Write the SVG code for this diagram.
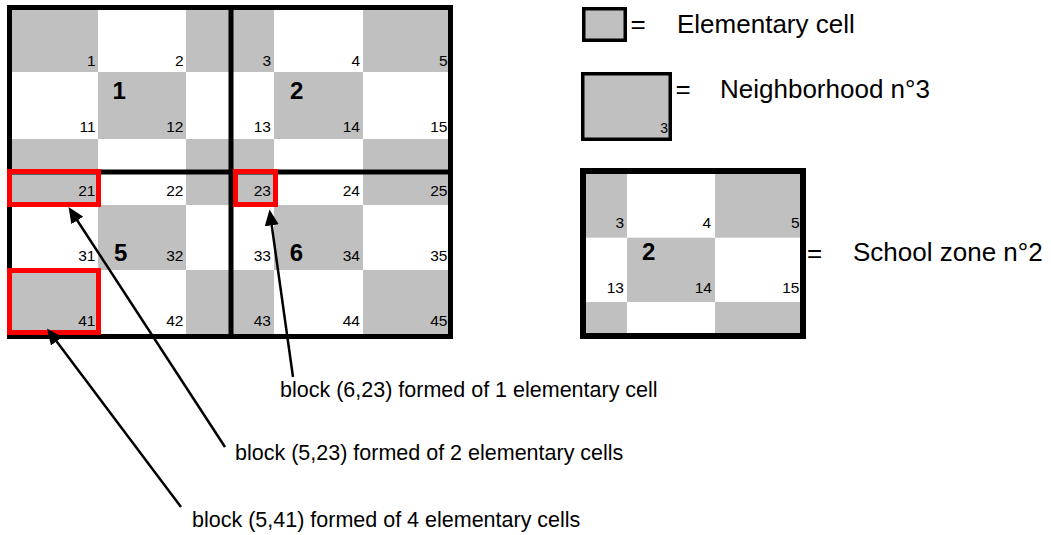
<svg xmlns="http://www.w3.org/2000/svg" width="1051" height="535" viewBox="0 0 1051 535">
  <defs>
    <marker id="arrowhead" markerUnits="userSpaceOnUse" markerWidth="16" markerHeight="14" viewBox="0 0 16 14" refX="8" refY="7" orient="auto">
      <path d="M0,0 L16,7 L0,14 z" fill="#000"/>
    </marker>
  </defs>
  <style>
    .g { fill: #c0c0c0; }
    .num { font-family: "Liberation Sans", Arial, sans-serif; font-size: 15.5px; text-anchor: end; fill: #000; }
    .big { font-family: "Liberation Sans", Arial, sans-serif; font-size: 24px; font-weight: bold; fill: #000; }
    .frame { fill: none; stroke: #000; }
    .sel { fill: none; stroke: #ff0000; stroke-width: 5; }
    .leg { font-family: "Liberation Sans", Arial, sans-serif; font-size: 26px; fill: #000; }
    .note { font-family: "Liberation Sans", Arial, sans-serif; font-size: 21.5px; fill: #000; }
    .arrow { stroke: #000; stroke-width: 2.5; fill: none; marker-end: url(#arrowhead); }
  </style>

  <rect width="1051" height="535" fill="#fff"/>

  <!-- Elementary cells: checkerboard of 5 x 5 cells -->
  <g id="cells">
    <rect class="g" x="12" y="10" width="86" height="62"/>
    <rect class="g" x="186" y="10" width="88" height="62"/>
    <rect class="g" x="363" y="10" width="86" height="62"/>
    <rect class="g" x="98" y="72" width="88" height="67"/>
    <rect class="g" x="274" y="72" width="89" height="67"/>
    <rect class="g" x="12" y="139" width="86" height="66"/>
    <rect class="g" x="186" y="139" width="88" height="66"/>
    <rect class="g" x="363" y="139" width="86" height="66"/>
    <rect class="g" x="98" y="205" width="88" height="65"/>
    <rect class="g" x="274" y="205" width="89" height="65"/>
    <rect class="g" x="12" y="270" width="86" height="64"/>
    <rect class="g" x="186" y="270" width="88" height="64"/>
    <rect class="g" x="363" y="270" width="86" height="64"/>

    <text class="num" x="95.5" y="66">1</text>
    <text class="num" x="183.5" y="66">2</text>
    <text class="num" x="271" y="66">3</text>
    <text class="num" x="360" y="66">4</text>
    <text class="num" x="447.5" y="66">5</text>

    <text class="num" x="95.5" y="132">11</text>
    <text class="num" x="183.5" y="132">12</text>
    <text class="num" x="271" y="132">13</text>
    <text class="num" x="360" y="132">14</text>
    <text class="num" x="447.5" y="132">15</text>

    <text class="num" x="95.5" y="196">21</text>
    <text class="num" x="183.5" y="196">22</text>
    <text class="num" x="271" y="196">23</text>
    <text class="num" x="360" y="196">24</text>
    <text class="num" x="447.5" y="196">25</text>

    <text class="num" x="95.5" y="261">31</text>
    <text class="num" x="183.5" y="261">32</text>
    <text class="num" x="271" y="261">33</text>
    <text class="num" x="360" y="261">34</text>
    <text class="num" x="447.5" y="261">35</text>

    <text class="num" x="95.5" y="326">41</text>
    <text class="num" x="183.5" y="326">42</text>
    <text class="num" x="271" y="326">43</text>
    <text class="num" x="360" y="326">44</text>
    <text class="num" x="447.5" y="326">45</text>
  </g>

  <!-- School zones (thick black boundaries) -->
  <g id="zones">
    <rect class="frame" x="9.5" y="7.5" width="441" height="329" stroke-width="5"/>
    <rect x="228.5" y="10" width="5" height="324" fill="#000"/>
    <rect x="12" y="169.5" width="436" height="5" fill="#000"/>
  </g>
  <g id="zone-1"><text class="big" x="112.5" y="99">1</text></g>
  <g id="zone-2"><text class="big" x="290" y="99">2</text></g>
  <g id="zone-5"><text class="big" x="114" y="261">5</text></g>
  <g id="zone-6"><text class="big" x="289.7" y="261">6</text></g>

  <!-- Highlighted blocks -->
  <g id="block-6-23"><rect class="sel" x="235.5" y="171.5" width="40" height="33"/></g>
  <g id="block-5-23"><rect class="sel" x="9.5" y="171.5" width="89" height="33"/></g>
  <g id="block-5-41"><rect class="sel" x="9.5" y="270.5" width="89" height="62"/></g>

  <!-- Legend: elementary cell -->
  <g id="legend-cell">
    <rect x="583.75" y="8.75" width="41.5" height="31.5" fill="#c0c0c0" stroke="#000" stroke-width="3.5"/>
    <text class="leg" x="630.5" y="33">=</text>
    <text class="leg" x="677" y="33">Elementary cell</text>
  </g>

  <!-- Legend: neighborhood -->
  <g id="legend-neighborhood">
    <rect x="582.75" y="73.75" width="87.5" height="65.5" fill="#c0c0c0" stroke="#000" stroke-width="3.5"/>
    <text class="num" x="668" y="133" style="font-size:14px">3</text>
    <text class="leg" x="675.5" y="98">=</text>
    <text class="leg" x="720" y="98">Neighborhood n°3</text>
  </g>

  <!-- Legend: school zone -->
  <g id="legend-zone">
    <rect class="g" x="586" y="174" width="41" height="63.7"/>
    <rect class="g" x="715" y="174" width="85" height="63.7"/>
    <rect class="g" x="627" y="237.7" width="88" height="64.3"/>
    <rect class="g" x="586" y="302" width="41" height="31"/>
    <rect class="g" x="715" y="302" width="85" height="31"/>
    <text class="num" x="624" y="228">3</text>
    <text class="num" x="711" y="228">4</text>
    <text class="num" x="799.5" y="228">5</text>
    <text class="num" x="624" y="293">13</text>
    <text class="num" x="712" y="293">14</text>
    <text class="num" x="799.5" y="293">15</text>
    <text class="big" x="642" y="260">2</text>
    <rect class="frame" x="583" y="171" width="220" height="165" stroke-width="6"/>
    <text class="leg" x="807" y="262">=</text>
    <text class="leg" x="853" y="261">School zone n°2</text>
  </g>

  <!-- Annotations -->
  <g id="labels">
    <text class="note" x="280" y="397">block (6,23) formed of 1 elementary cell</text>
    <text class="note" x="235" y="460">block (5,23) formed of 2 elementary cells</text>
    <text class="note" x="192" y="527">block (5,41) formed of 4 elementary cells</text>
  </g>

  <!-- Connectors -->
  <g id="connectors">
    <line class="arrow" x1="293" y1="377" x2="270.6" y2="217.4"/>
    <line class="arrow" x1="225" y1="447" x2="72.9" y2="213.7"/>
    <line class="arrow" x1="181" y1="507" x2="51.8" y2="334.9"/>
  </g>
</svg>
